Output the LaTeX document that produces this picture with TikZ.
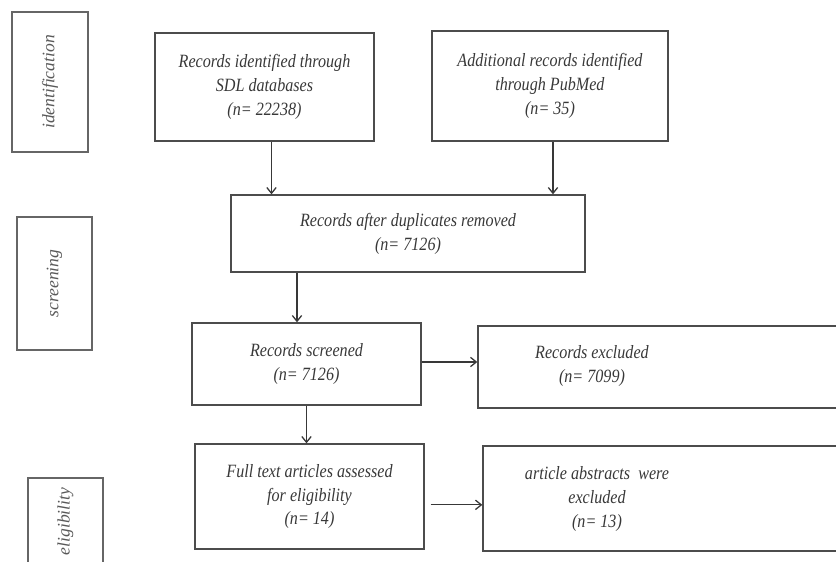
\documentclass[tikz,border=0pt]{standalone}
\usepackage{fontspec}
\setmainfont{Liberation Serif}
\newfontfamily\boxfont{Liberation Serif}[FakeStretch=0.86]
\usetikzlibrary{calc, arrows.meta}

\begin{document}
\begin{tikzpicture}[x=0.03cm, y=-0.03cm,
		box/.style={draw=black!70, line width=1.1pt, inner sep=0pt,
			font=\boxfont\fontsize{16}{20.4}\selectfont\itshape, text=black!78, align=center},
		boxtext/.style={font=\boxfont\fontsize{16}{20.4}\selectfont\itshape, text=black!78, align=center},
		phase/.style={draw=black!60, line width=1pt, inner sep=0pt, rotate=90,
			font=\fontsize{15}{18}\selectfont\itshape, text=black!65},
		arr/.style={-{Straight Barb[length=5pt, width=8pt]}, draw=black!78, line width=1.1pt}]
				% Frame
				\useasboundingbox (0, 0) rectangle (836, 562);
				\clip (0, 0) rectangle (836, 562);
				
				% Phase boxes
				\node[phase, minimum width=4.2cm, minimum height=2.28cm] (ident) at (50, 82) {identification};
				\node[phase, minimum width=3.99cm, minimum height=2.25cm] (screen) at (54.5, 283.5) {screening};
				\node[phase, minimum width=2.61cm, minimum height=2.25cm] (elig) at (65.5, 521.5) {eligibility};
				
				% Top boxes
				\node[box, minimum width=6.57cm, minimum height=3.24cm] (sdl) at (264.5, 87)
					{Records identified through\\SDL databases\\(n= 22238)};
				\node[box, minimum width=7.08cm, minimum height=3.3cm] (pubmed) at (550, 86)
					{Additional records identified\\through PubMed\\(n= 35)};
				
				% Middle box
				\node[box, minimum width=10.62cm, minimum height=2.31cm] (dedup) at (408, 233.5)
					{Records after duplicates removed\\(n= 7126)};
				
				% Left column
				\node[box, minimum width=6.87cm, minimum height=2.46cm] (screened) at (306.5, 364)
					{Records screened\\(n= 7126)};
				\node[box, minimum width=6.87cm, minimum height=3.15cm] (fulltext) at (309.5, 496.5)
					{Full text articles assessed\\for eligibility\\(n= 14)};
				
				% Right column (runs past the edge)
				\node[box, minimum width=11.46cm, minimum height=2.46cm] (excluded) at (669, 367) {};
				\node[boxtext] (excludedtext) at (592, 366) {Records excluded\\(n= 7099)};
				\node[box, minimum width=11.31cm, minimum height=3.15cm] (abstracts) at (671.5, 498.5) {};
				\node[boxtext] (abstractstext) at (597, 499) {article abstracts~ were\\excluded\\(n= 13)};
				
				% Arrows
				\coordinate (a1) at ([xshift=0.21cm]sdl.south);
				\draw[arr] (a1) -- (a1 |- dedup.north);
				\coordinate (b1) at ([xshift=0.09cm]pubmed.south);
				\draw[arr] (b1) -- (b1 |- dedup.north);
				\coordinate (c1) at ([xshift=-0.285cm]screened.north);
				\draw[arr] (c1 |- dedup.south) -- (c1);
				\coordinate (d1) at ([yshift=0.06cm]screened.east);
				\draw[arr] (d1) -- (d1 -| excluded.west);
				\draw[arr] (screened.south) -- (screened.south |- fulltext.north);
				\coordinate (f1) at ([shift={(0.18cm,-0.25cm)}]fulltext.east);
				\draw[arr] (f1) -- (f1 -| abstracts.west);
\end{tikzpicture}
\end{document}
